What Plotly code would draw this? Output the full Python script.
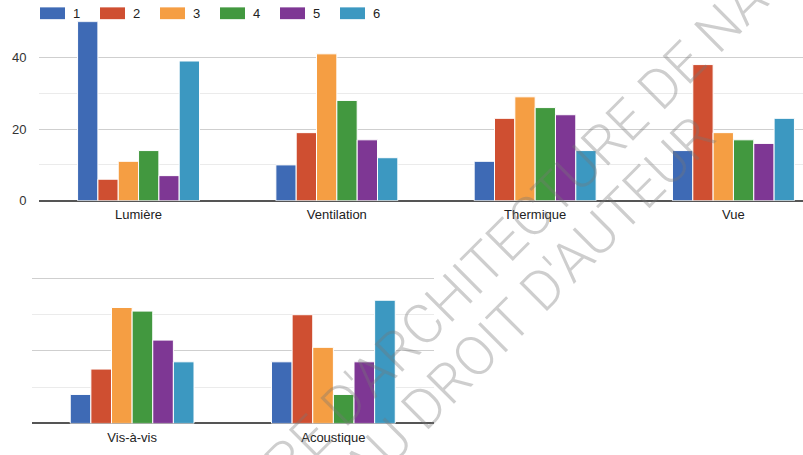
import plotly.graph_objects as go

W, H = 803, 455

categories_top = ["Lumière", "Ventilation", "Thermique", "Vue"]
categories_bottom = ["Vis-à-vis", "Acoustique"]
series_names = ["1", "2", "3", "4", "5", "6"]
# values per series over: Lumière, Ventilation, Thermique, Vue, Vis-à-vis, Acoustique
s1 = [50, 10, 11, 14, 8, 17]
s2 = [6, 19, 23, 38, 15, 30]
s3 = [11, 41, 29, 19, 32, 21]
s4 = [14, 28, 26, 17, 31, 8]
s5 = [7, 17, 24, 16, 23, 17]
s6 = [39, 12, 14, 23, 17, 34]
series_values = [s1, s2, s3, s4, s5, s6]
y_ticks = [0, 20, 40]

watermark_line1 = "SUPÉRIEURE D'ARCHITECTURE DE NANTES"
watermark_line2 = "SOUMIS AU DROIT D'AUTEUR"

colors = ["#3e6ab5", "#cf4f31", "#f59e43", "#42983f", "#7e3794", "#3c98c1"]
FONT = "Liberation Sans, Arial, sans-serif"


def px_x(p):
    return p / W


def px_y(p):
    return 1 - p / H


fig = go.Figure()
n_top = len(categories_top)
for name, vals, col in zip(series_names, series_values, colors):
    fig.add_trace(go.Bar(x=categories_top, y=vals[:n_top], name=name,
                         marker=dict(color=col, line=dict(color="white", width=1)),
                         xaxis="x", yaxis="y", showlegend=False))
    fig.add_trace(go.Bar(x=categories_bottom, y=vals[n_top:], name=name,
                         marker=dict(color=col, line=dict(color="white", width=1)),
                         xaxis="x2", yaxis="y2", showlegend=False))

yaxis_common = dict(range=[0, 50], dtick=20, tick0=0, showgrid=True,
                    gridcolor="#cfcfcf", gridwidth=1,
                    minor=dict(dtick=10, tick0=0, showgrid=True, gridcolor="#ebebeb", gridwidth=1),
                    zeroline=True, zerolinecolor="#555555", zerolinewidth=1.5,
                    showline=False, fixedrange=True)

band_px = 198.3
left_px = 39.4
x_end = -0.5 + (W - left_px) / band_px

fig.update_layout(
    width=W, height=H, autosize=False,
    margin=dict(l=0, r=0, t=0, b=0),
    paper_bgcolor="white", plot_bgcolor="white",
    barmode="group", bargap=0.385, bargroupgap=0,
    font=dict(family=FONT, size=13, color="#222222"),
    xaxis=dict(domain=[px_x(left_px), 1], range=[-0.5, x_end], anchor="y",
               showgrid=False, zeroline=False, showline=False,
               tickfont=dict(size=13, color="#222222"), ticklabelstandoff=4),
    yaxis=dict(domain=[px_y(204.3), px_y(22)], anchor="x",
               tickvals=y_ticks, ticktext=[str(v) for v in y_ticks],
               tickfont=dict(size=13, color="#333333"), ticklabelstandoff=12,
               **yaxis_common),
    xaxis2=dict(domain=[px_x(31.5), px_x(434)], range=[-0.5, 1.5], anchor="y2",
                showgrid=False, zeroline=False, showline=False,
                tickfont=dict(size=13, color="#222222"), ticklabelstandoff=5),
    yaxis2=dict(domain=[px_y(431), px_y(246.6)], anchor="x2",
                showticklabels=False, **yaxis_common),
)

# legend (manual, to mimic wide swatches)
shapes = []
annotations = []
for i, (name, col) in enumerate(zip(series_names, colors)):
    x0 = 40 + 60 * i
    shapes.append(dict(type="rect", xref="paper", yref="paper",
                       x0=px_x(x0), x1=px_x(x0 + 25), y0=px_y(19.5), y1=px_y(7.5),
                       fillcolor=col, line=dict(width=0)))
    annotations.append(dict(text=name, xref="paper", yref="paper",
                            x=px_x(x0 + 31), y=px_y(13.5), xanchor="left", yanchor="middle",
                            showarrow=False, font=dict(family=FONT, size=13, color="#222222")))

# watermark
wm_font = dict(family="Roboto, Liberation Sans, sans-serif", size=55, weight=300,
               color="rgba(120,120,120,0.36)")
annotations.append(dict(text=watermark_line1, xref="paper", yref="paper",
                        x=px_x(475), y=px_y(277), xanchor="center", yanchor="middle",
                        textangle=-45, showarrow=False, font=wm_font))
annotations.append(dict(text=watermark_line2, xref="paper", yref="paper",
                        x=px_x(453), y=px_y(385), xanchor="center", yanchor="middle",
                        textangle=-45, showarrow=False, font=wm_font))

fig.update_layout(shapes=shapes, annotations=annotations)
fig.write_html("out.html", config={"displayModeBar": False},
               post_script="document.body.style.margin='0';document.body.style.overflow='hidden';")
